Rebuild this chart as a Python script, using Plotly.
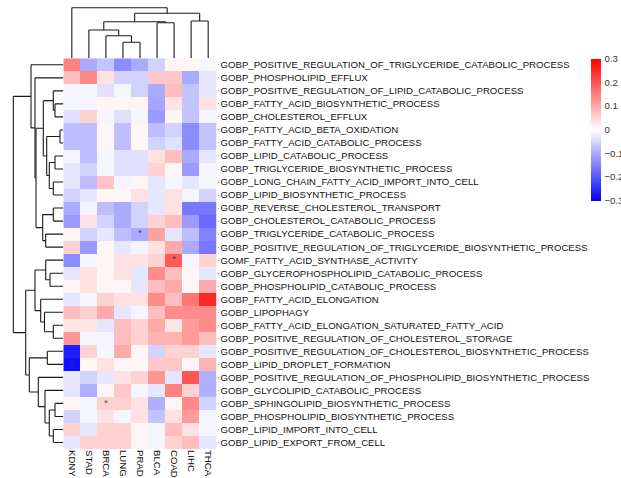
import plotly.graph_objects as go

# ---------------- data ----------------
col_labels = ["KDNY", "STAD", "BRCA", "LUNG", "PRAD", "BLCA", "COAD", "LIHC", "THCA"]

row_labels = [
    "GOBP_POSITIVE_REGULATION_OF_TRIGLYCERIDE_CATABOLIC_PROCESS",
    "GOBP_PHOSPHOLIPID_EFFLUX",
    "GOBP_POSITIVE_REGULATION_OF_LIPID_CATABOLIC_PROCESS",
    "GOBP_FATTY_ACID_BIOSYNTHETIC_PROCESS",
    "GOBP_CHOLESTEROL_EFFLUX",
    "GOBP_FATTY_ACID_BETA_OXIDATION",
    "GOBP_FATTY_ACID_CATABOLIC_PROCESS",
    "GOBP_LIPID_CATABOLIC_PROCESS",
    "GOBP_TRIGLYCERIDE_BIOSYNTHETIC_PROCESS",
    "GOBP_LONG_CHAIN_FATTY_ACID_IMPORT_INTO_CELL",
    "GOBP_LIPID_BIOSYNTHETIC_PROCESS",
    "GOBP_REVERSE_CHOLESTEROL_TRANSPORT",
    "GOBP_CHOLESTEROL_CATABOLIC_PROCESS",
    "GOBP_TRIGLYCERIDE_CATABOLIC_PROCESS",
    "GOBP_POSITIVE_REGULATION_OF_TRIGLYCERIDE_BIOSYNTHETIC_PROCESS",
    "GOMF_FATTY_ACID_SYNTHASE_ACTIVITY",
    "GOBP_GLYCEROPHOSPHOLIPID_CATABOLIC_PROCESS",
    "GOBP_PHOSPHOLIPID_CATABOLIC_PROCESS",
    "GOBP_FATTY_ACID_ELONGATION",
    "GOBP_LIPOPHAGY",
    "GOBP_FATTY_ACID_ELONGATION_SATURATED_FATTY_ACID",
    "GOBP_POSITIVE_REGULATION_OF_CHOLESTEROL_STORAGE",
    "GOBP_POSITIVE_REGULATION_OF_CHOLESTEROL_BIOSYNTHETIC_PROCESS",
    "GOBP_LIPID_DROPLET_FORMATION",
    "GOBP_POSITIVE_REGULATION_OF_PHOSPHOLIPID_BIOSYNTHETIC_PROCESS",
    "GOBP_GLYCOLIPID_CATABOLIC_PROCESS",
    "GOBP_SPHINGOLIPID_BIOSYNTHETIC_PROCESS",
    "GOBP_PHOSPHOLIPID_BIOSYNTHETIC_PROCESS",
    "GOBP_LIPID_IMPORT_INTO_CELL",
    "GOBP_LIPID_EXPORT_FROM_CELL",
]

KDNY = [0.147, 0.076, -0.012, -0.012, -0.035, -0.076, -0.076, -0.012, -0.03, -0.03,
        -0.053, -0.1, -0.118, 0.012, 0.053, -0.135, -0.03, 0.012, -0.03, 0.076,
        0.03, 0.124, -0.265, -0.282, -0.03, -0.03, 0.012, -0.053, 0.053, -0.03]
STAD = [-0.1, 0.14, -0.012, -0.012, 0.053, -0.076, -0.076, -0.076, -0.053, -0.076,
        -0.03, -0.012, 0.035, -0.053, -0.118, -0.012, 0.035, 0.035, -0.012, 0.053,
        0.03, -0.012, 0.053, 0.012, -0.053, -0.094, -0.012, -0.012, -0.03, 0.053]
BRCA = [-0.07, 0.035, -0.035, 0.012, -0.012, 0.012, 0.012, -0.012, -0.012, 0.07,
        0.012, -0.076, -0.053, -0.03, 0.012, 0.012, 0.012, 0.012, 0.053, 0.1,
        -0.03, -0.012, -0.012, 0.035, -0.03, 0.012, 0.053, 0.035, 0.053, 0.053]
LUNG = [-0.135, -0.053, -0.012, 0.012, -0.035, -0.076, -0.076, -0.035, -0.035, -0.012,
        0.012, -0.1, -0.1, -0.076, -0.03, 0.035, 0.035, 0.012, 0.035, -0.03,
        0.076, 0.076, 0.1, 0.012, 0.035, 0.065, 0.053, -0.012, 0.053, 0.053]
PRAD = [-0.1, -0.053, -0.053, 0.012, -0.012, 0.012, 0.012, -0.035, -0.035, 0.012,
        0.035, -0.053, -0.053, -0.1, -0.012, 0.035, -0.03, -0.03, 0.035, -0.012,
        0.053, 0.053, 0.012, 0.012, 0.053, -0.012, 0.035, 0.035, 0.012, 0.012]
BLCA = [-0.053, 0.065, -0.1, -0.105, -0.118, -0.076, -0.053, 0.035, 0.053, -0.03,
        -0.03, -0.03, 0.053, 0.11, 0.035, 0.053, 0.135, 0.076, 0.135, 0.076,
        0.1, 0.088, -0.053, 0.065, 0.124, -0.03, -0.094, -0.07, -0.012, -0.012]
COAD = [0.012, 0.065, 0.076, 0.035, 0.012, -0.053, -0.035, 0.076, 0.012, -0.012,
        0.035, 0.035, 0.076, -0.03, 0.1, 0.194, 0.076, 0.1, 0.076, 0.135,
        0.03, 0.088, 0.053, 0.065, -0.03, 0.147, 0.012, 0.035, 0.076, 0.053]
LIHC = [0.012, -0.1, -0.07, -0.07, -0.07, -0.135, -0.135, -0.1, -0.118, -0.03,
        -0.012, -0.16, -0.118, -0.076, -0.1, -0.012, 0.012, 0.012, 0.16, 0.135,
        0.118, 0.118, 0.053, 0.012, 0.2, 0.053, 0.14, 0.118, 0.035, 0.076]
THCA = [-0.012, -0.03, -0.03, 0.035, -0.012, -0.07, -0.07, -0.03, -0.012, -0.012,
        -0.053, -0.16, -0.176, -0.147, -0.16, 0.053, -0.03, 0.1, 0.253, 0.135,
        0.135, 0.076, -0.03, 0.088, -0.094, -0.094, -0.053, -0.012, -0.012, -0.03]

# significant cells (row label index, column label)
sig_rows = [14, 16, 24, 27]
sig_cols = ["PRAD", "COAD", "KDNY", "BRCA"]

# hclust-style merges: negative = leaf (1-based display order), positive = earlier merge
col_merges = [(-4, -5), (-3, 1), (-2, 2), (-6, -7), (3, 4), (-8, -9), (5, 6), (-1, 7)]
col_heights = [16.0, 22.6, 28.3, 35.6, 36.6, 37.3, 45.0, 50.6]

row_merges = [(-4, -5), (-3, 1), (-6, -7), (-8, -9), (-10, -11), (4, 5), (3, 6), (2, 7),
              (-12, -13), (-14, -15), (9, 10), (8, 11), (-2, 12), (-1, 13),
              (-17, -18), (-16, 15), (-21, -22), (-20, 17), (-19, 18), (16, 19),
              (-23, -24), (-27, -28), (-29, -30), (22, 23), (-26, 24), (-25, 25),
              (21, 26), (20, 27), (14, 28)]
row_heights = [8.3, 10.0, 3.3, 8.3, 10.0, 14.0, 16.6, 20.0, 10.0, 17.6, 20.6, 27.3,
               28.3, 32.3, 13.3, 17.6, 10.0, 18.8, 22.6, 28.3, 16.0, 8.3, 10.0, 14.0,
               18.3, 25.0, 34.0, 37.6, 50.0]

# ---------------- helpers ----------------
columns = {"KDNY": KDNY, "STAD": STAD, "BRCA": BRCA, "LUNG": LUNG, "PRAD": PRAD,
           "BLCA": BLCA, "COAD": COAD, "LIHC": LIHC, "THCA": THCA}
z = [[columns[c][i] for c in col_labels] for i in range(len(row_labels))]


def dendro_segments(merges, heights):
    pos, hgt = {}, {}
    segs = []

    def node(k):
        if k < 0:
            return (-k - 1), 0.0
        return pos[k], hgt[k]

    for idx, ((a, b), h) in enumerate(zip(merges, heights), start=1):
        pa, ha = node(a)
        pb, hb = node(b)
        segs.append(((pa, ha), (pa, h)))
        segs.append(((pa, h), (pb, h)))
        segs.append(((pb, h), (pb, hb)))
        pos[idx] = (pa + pb) / 2.0
        hgt[idx] = h
    return segs


W, H = 621, 478
hx0, hx1 = 63.3, 216.7
hy0, hy1 = 58.3, 449.0
n_rows = len(row_labels)
n_cols = len(col_labels)
lab_size = 9.6

fig = go.Figure()

fig.add_trace(go.Heatmap(
    z=z, x=list(range(n_cols)), y=list(range(n_rows)),
    zmin=-0.3, zmax=0.3,
    colorscale=[[0, "rgb(0,0,255)"], [0.5, "rgb(255,255,255)"], [1, "rgb(255,0,0)"]],
    xaxis="x", yaxis="y",
    colorbar=dict(
        x=591 / W, xanchor="left", y=1 - 129.5 / H, yanchor="middle",
        lenmode="pixels", len=142.4, thickness=10, thicknessmode="pixels",
        xpad=0, ypad=0, outlinewidth=0,
        tickvals=[-0.3, -0.2, -0.1, 0, 0.1, 0.2, 0.3],
        ticktext=["\u22120.3", "\u22120.2", "\u22120.1", "0", "0.1", "0.2", "0.3"],
        ticks="outside", ticklen=2, tickcolor="rgba(0,0,0,0)",
        tickfont=dict(size=9.6, color="#333333"),
    ),
    hoverinfo="skip",
))

# significance marks
fig.add_trace(go.Scatter(
    x=[col_labels.index(c) for c in sig_cols],
    y=[r - 1 for r in sig_rows],
    mode="text", text=["*"] * len(sig_rows),
    textfont=dict(size=9, color="#1f4f1f"),
    textposition="middle center",
    xaxis="x", yaxis="y", showlegend=False, hoverinfo="skip",
))

# top dendrogram
xs, ys = [], []
for (p0, h0), (p1, h1) in dendro_segments(col_merges, col_heights):
    xs += [p0, p1, None]
    ys += [h0, h1, None]
fig.add_trace(go.Scatter(x=xs, y=ys, mode="lines", line=dict(color="#1a1a1a", width=1.1),
                         xaxis="x2", yaxis="y2", showlegend=False, hoverinfo="skip"))

# left dendrogram
xs, ys = [], []
for (p0, h0), (p1, h1) in dendro_segments(row_merges, row_heights):
    xs += [h0, h1, None]
    ys += [p0, p1, None]
fig.add_trace(go.Scatter(x=xs, y=ys, mode="lines", line=dict(color="#1a1a1a", width=1.1),
                         xaxis="x3", yaxis="y3", showlegend=False, hoverinfo="skip"))

font_family = "Arial, 'Liberation Sans', sans-serif"
fig.update_layout(
    width=W, height=H,
    margin=dict(l=0, r=0, t=0, b=0, pad=0, autoexpand=False),
    paper_bgcolor="white", plot_bgcolor="white",
    font=dict(family=font_family, size=lab_size, color="#111111"),
    showlegend=False,
    xaxis=dict(domain=[hx0 / W, hx1 / W], range=[-0.5, n_cols - 0.5],
               tickvals=list(range(n_cols)), ticktext=col_labels, tickangle=90,
               side="bottom", showgrid=False, zeroline=False, showline=False,
               automargin=False,
               ticks="", tickfont=dict(size=lab_size, color="#111111")),
    yaxis=dict(domain=[1 - hy1 / H, 1 - hy0 / H], range=[n_rows - 0.5, -0.5],
               tickvals=list(range(n_rows)), ticktext=row_labels,
               side="right", showgrid=False, zeroline=False, showline=False,
               automargin=False,
               ticks="outside", ticklen=1, tickcolor="#aaaaaa", tickwidth=1,
               tickfont=dict(size=lab_size, color="#111111")),
    xaxis2=dict(domain=[hx0 / W, hx1 / W], range=[-0.5, n_cols - 0.5], anchor="y2",
                visible=False),
    yaxis2=dict(domain=[1 - hy0 / H, 1.0], range=[0, hy0], anchor="x2", visible=False),
    xaxis3=dict(domain=[0, hx0 / W], range=[hx0, 0], anchor="y3", visible=False),
    yaxis3=dict(domain=[1 - hy1 / H, 1 - hy0 / H], range=[n_rows - 0.5, -0.5],
                anchor="x3", visible=False),
)

fig.write_html("out.html",
               config={"displayModeBar": False},
               post_script="document.body.style.margin='0';document.body.style.padding='0';"
                           "document.body.style.overflow='hidden';")
